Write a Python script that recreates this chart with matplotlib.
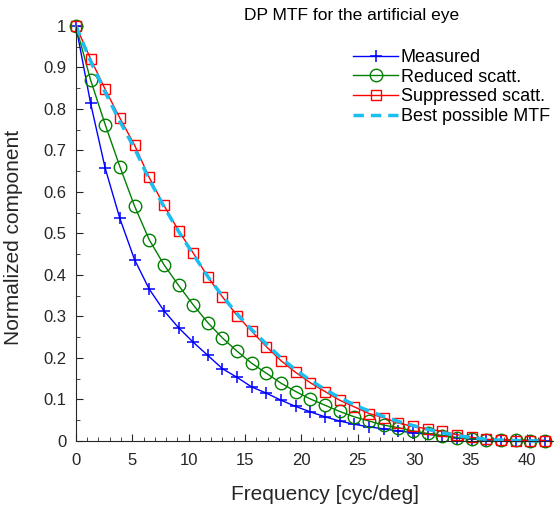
import numpy as np
import matplotlib
matplotlib.use("Agg")
import matplotlib.pyplot as plt
from matplotlib.ticker import MultipleLocator, FuncFormatter

plt.rcParams['font.family'] = ['Liberation Sans', 'DejaVu Sans']

# spatial frequency samples [cyc/deg]
freq = np.arange(33) * 1.30

measured = [1.0, 0.814, 0.657, 0.536, 0.437, 0.366, 0.314, 0.273, 0.238, 0.206,
            0.174, 0.153, 0.130, 0.115, 0.098, 0.083, 0.070, 0.058, 0.048, 0.040,
            0.034, 0.029, 0.024, 0.020, 0.016, 0.012, 0.008, 0.005, 0.003, 0.002,
            0.002, 0.001, 0.001]
reduced = [1.0, 0.870, 0.762, 0.661, 0.566, 0.485, 0.425, 0.375, 0.328, 0.285,
           0.248, 0.216, 0.187, 0.163, 0.139, 0.119, 0.101, 0.086, 0.071, 0.058,
           0.048, 0.038, 0.032, 0.024, 0.018, 0.013, 0.008, 0.005, 0.003, 0.002,
           0.002, 0.001, 0.001]
suppressed = [1.0, 0.921, 0.847, 0.778, 0.713, 0.635, 0.568, 0.507, 0.453, 0.395,
              0.347, 0.302, 0.264, 0.227, 0.193, 0.165, 0.140, 0.119, 0.098, 0.082,
              0.066, 0.056, 0.043, 0.035, 0.029, 0.023, 0.015, 0.009, 0.004, 0.002,
              0.001, 0.001, 0.001]
best = [1.0, 0.915, 0.840, 0.770, 0.705, 0.630, 0.565, 0.505, 0.450, 0.396,
        0.349, 0.306, 0.268, 0.233, 0.200, 0.171, 0.146, 0.124, 0.104, 0.087,
        0.072, 0.059, 0.047, 0.037, 0.028, 0.020, 0.013, 0.008, 0.004, 0.002,
        0.001, 0.0, 0.0]

fig = plt.figure(figsize=(5.54, 5.08), dpi=100)
ax = fig.add_axes([0.137, 0.132, 0.863, 0.817])

ax.plot(freq, measured, color='#0000ff', lw=1.0, marker='+', ms=9, mew=1.1,
        label='Measured', clip_on=False)
ax.plot(freq, reduced, color='#008000', lw=1.0, marker='o', ms=9, mew=1.0,
        mfc='none', label='Reduced scatt.', clip_on=False)
ax.plot(freq, suppressed, color='#ff0000', lw=1.0, marker='s', ms=7.5, mew=1.0,
        mfc='none', label='Suppressed scatt.', clip_on=False)
ax.plot(freq, best, color='#1ABEF0', lw=2.5, ls=(0, (3, 2)),
        label='Best possible MTF', clip_on=False)

ax.set_xlim(0, 42.4)
ax.set_ylim(0, 1)
ax.xaxis.set_major_locator(MultipleLocator(5))
ax.xaxis.set_minor_locator(MultipleLocator(1))
ax.yaxis.set_major_locator(MultipleLocator(0.1))
ax.yaxis.set_minor_locator(MultipleLocator(0.05))
ax.yaxis.set_major_formatter(FuncFormatter(lambda v, p: f"{v:.1f}".rstrip('0').rstrip('.') if v > 1e-9 else '0'))

for s in ['top', 'right']:
    ax.spines[s].set_visible(False)
for s in ['left', 'bottom']:
    ax.spines[s].set_color('#262626')
    ax.spines[s].set_linewidth(0.8)
ax.tick_params(which='both', direction='in', colors='#262626', labelsize=12,
               top=False, right=False)
ax.tick_params(which='major', length=5)
ax.tick_params(which='minor', length=3)
ax.tick_params(axis='x', pad=9)
ax.tick_params(axis='y', pad=7)

ax.set_xlabel('Frequency [cyc/deg]', fontsize=15, color='#262626')
ax.set_ylabel('Normalized component', fontsize=15, color='#262626')
ax.xaxis.set_label_coords(0.52, -0.105)
ax.yaxis.set_label_coords(-0.11, 0.49)
fig.text(0.635, 0.985, 'DP MTF for the artificial eye', fontsize=12.5,
         ha='center', va='top', color='black')

ax.legend(loc='upper right', bbox_to_anchor=(1.006, 0.918), bbox_transform=fig.transFigure,
          frameon=False, fontsize=13, handlelength=2.5, handletextpad=0.15,
          labelspacing=0.15, borderaxespad=0)

fig.savefig('out.png', dpi=100)
